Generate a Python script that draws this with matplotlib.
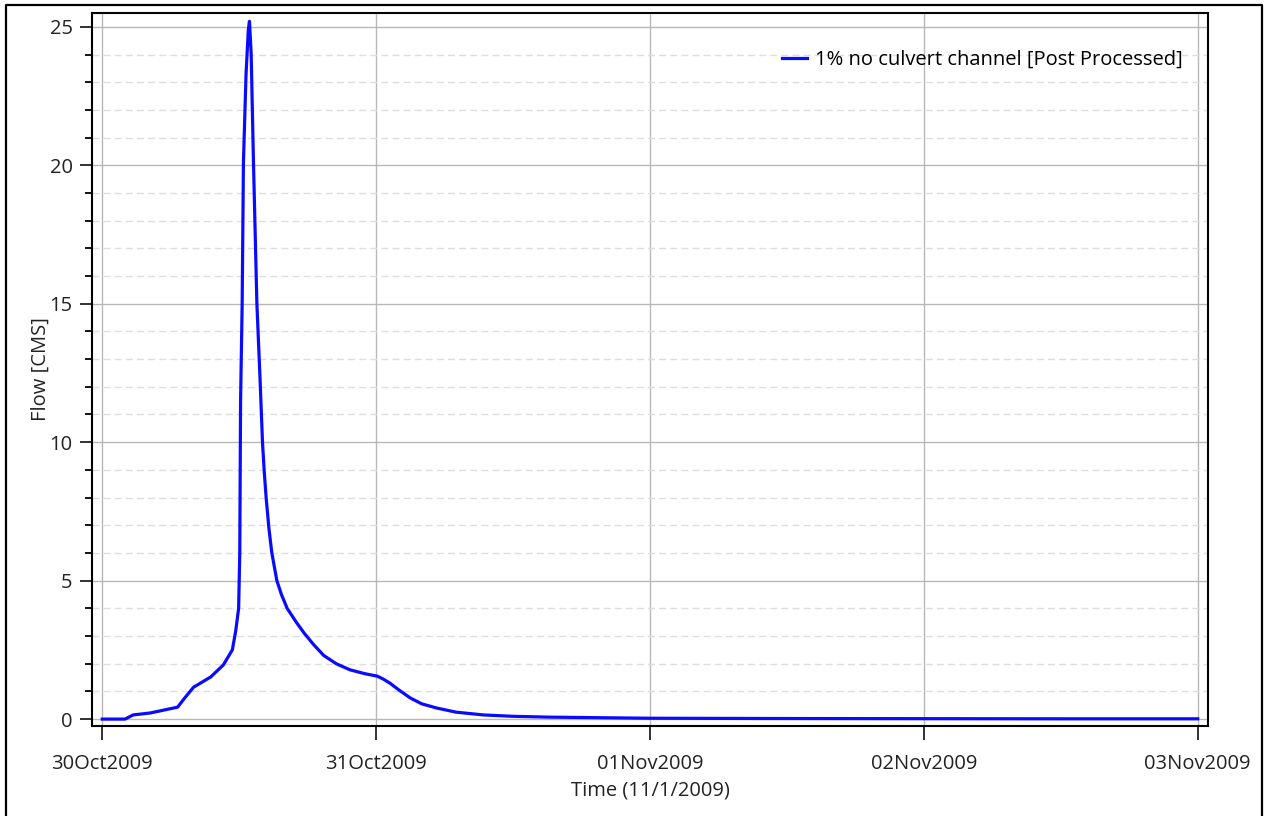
import numpy as np
import pandas as pd
import matplotlib
matplotlib.use("Agg")
import matplotlib.pyplot as plt
import matplotlib.dates as mdates
from matplotlib.lines import Line2D
from matplotlib.ticker import MultipleLocator

plt.rcParams['font.family'] = ['Open Sans', 'DejaVu Sans']

# Hydrograph (hours after 30Oct2009 00:00, flow in CMS)
hours = [0, 2.0, 2.7, 4.2, 6.6, 7.2, 8.0, 9.5, 10.6, 11.4, 11.7, 11.95,
         12.05, 12.12, 12.26, 12.37, 12.6, 12.8, 12.9, 13.05, 13.25, 13.55,
         13.83, 14.04, 14.2, 14.36, 14.6, 14.86, 15.3, 15.7, 16.2, 17.0,
         17.7, 18.5, 19.4, 20.5, 21.7, 23.0, 24.1, 24.6, 25.2, 26.0, 27.0,
         28.0, 29.3, 31.0, 33.4, 36.0, 39.2, 43.6, 48, 60, 72, 84, 96]
flow = [0, 0, 0.15, 0.22, 0.43, 0.75, 1.15, 1.52, 1.95, 2.5, 3.2, 4.0,
        6.0, 11.5, 15.0, 20.1, 23.3, 24.9, 25.2, 24.0, 20.1, 15.0,
        12.25, 10.0, 8.9, 8.0, 6.9, 6.0, 5.0, 4.5, 4.0, 3.5,
        3.1, 2.7, 2.3, 2.0, 1.78, 1.64, 1.55, 1.45, 1.3, 1.05, 0.76,
        0.55, 0.4, 0.25, 0.15, 0.1, 0.07, 0.05, 0.03, 0.02, 0.015, 0.01, 0.01]
series_name = "1% no culvert channel [Post Processed]"
start = pd.Timestamp("2009-10-30")
end = pd.Timestamp("2009-11-03")

times = start + pd.to_timedelta(hours, unit="h")

fig = plt.figure(figsize=(12.66, 8.16), dpi=100)
ax = fig.add_axes([92 / 1266, 1 - 726 / 816, 1116 / 1266, 713 / 816])

ax.plot(times, flow, color="#0a0aff", lw=2.3, label=series_name)

# axis limits with small margins like the original
pad = pd.Timedelta(hours=0.9)
ax.set_xlim(start - pad, end + pad)
ax.set_ylim(-0.25, 25.5)

ax.xaxis.set_major_locator(mdates.DayLocator())
ax.xaxis.set_major_formatter(mdates.DateFormatter("%d%b%Y"))
ax.yaxis.set_major_locator(MultipleLocator(5))
ax.yaxis.set_minor_locator(MultipleLocator(1))

ax.grid(which="major", color="#b8b8b8", lw=1.0)
ax.grid(which="minor", axis="y", color="#dddddd", lw=1.0, ls=(0, (5, 3)))
ax.set_axisbelow(True)

fs = 14.5
ax.tick_params(axis="y", which="major", length=9, width=1.3, labelsize=fs, pad=5, colors="#222222")
ax.tick_params(axis="y", which="minor", length=5, width=1.3)
ax.tick_params(axis="x", which="major", length=10, width=1.3, labelsize=fs, pad=10, colors="#222222")
for s in ax.spines.values():
    s.set_linewidth(1.5)
    s.set_color("black")

ax.set_xlabel("Time (11/1/2009)", fontsize=fs, color="#222222", labelpad=5)
ax.set_ylabel("Flow [CMS]", fontsize=fs, color="#222222", labelpad=-1)

ax.legend(loc="upper right", bbox_to_anchor=(0.985, 0.96), frameon=False,
          fontsize=fs, handlelength=1.25, handletextpad=0.4, borderaxespad=0)

# outer frame (the bottom edge is cut off in the original)
fx = [6 / 1266, 6 / 1266, 1262 / 1266, 1262 / 1266]
fy = [0, 1 - 5 / 816, 1 - 5 / 816, 0]
fig.add_artist(Line2D(fx, fy, transform=fig.transFigure, color="black", lw=1.6))

fig.savefig("out.png", dpi=100)
